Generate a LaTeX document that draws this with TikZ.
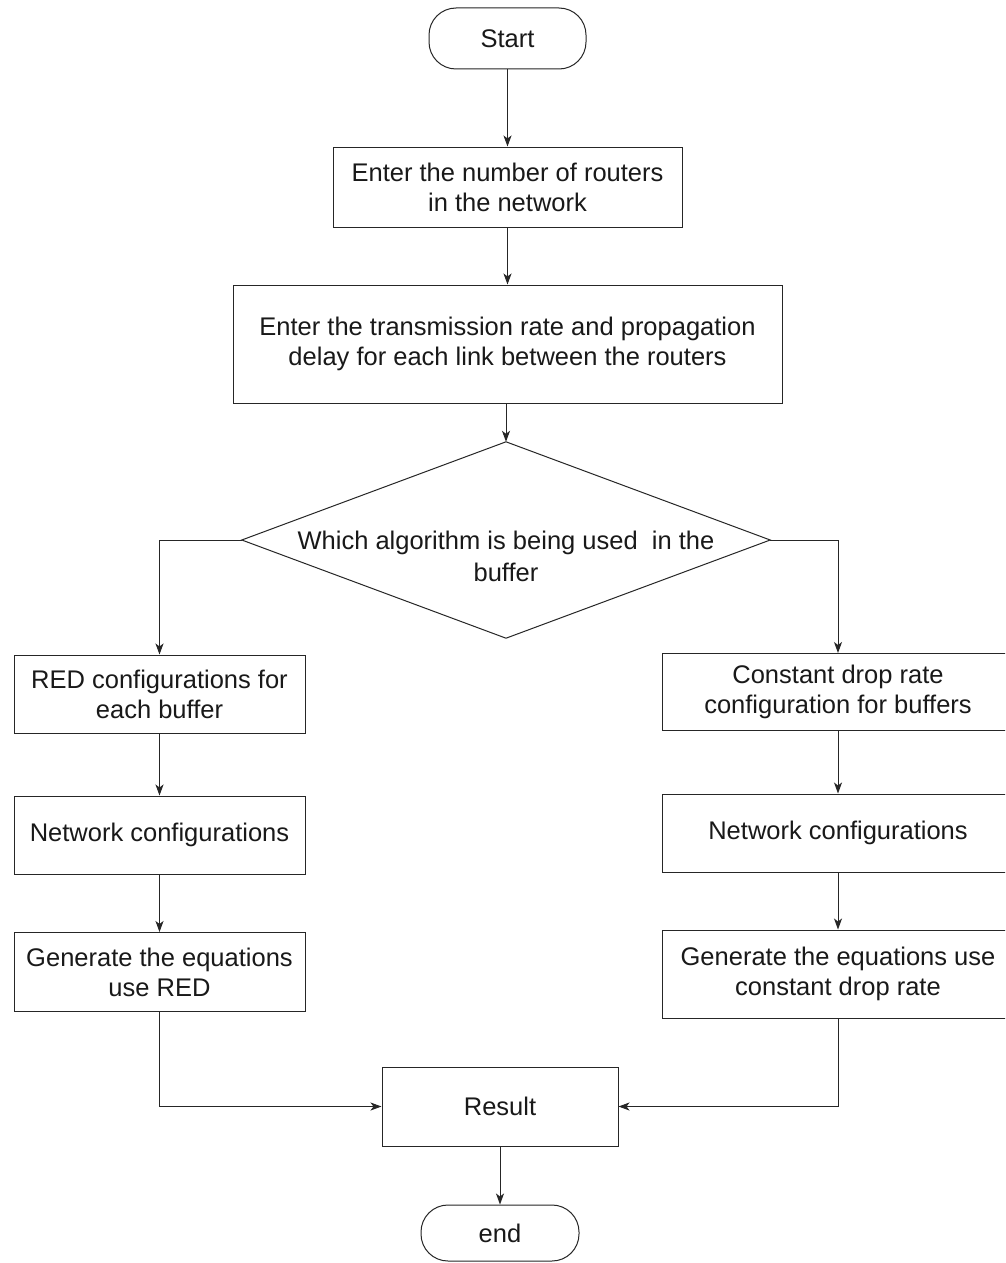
\documentclass[tikz,border=0pt]{standalone}
\usepackage{fontspec}
\setmainfont{Liberation Sans}
\usetikzlibrary{arrows.meta,positioning}
\tikzset{
  box/.style={draw=black!85,line width=1pt,rectangle,align=center,inner sep=0pt,
    font=\fontsize{25.5}{30}\selectfont,text=black!90},
  term/.style={box,rounded corners=27pt},
  dtext/.style={align=center,inner sep=0pt,font=\fontsize{25.5}{32}\selectfont,text=black!90},
  flow/.style={draw=black!85,line width=1pt,-{Stealth[length=11pt,width=8pt,inset=3pt]}},
}
\begin{document}
\begin{tikzpicture}[x=1pt,y=-1pt]
\clip (0,0) rectangle (1005,1263);
\fill[white] (0,0) rectangle (1005,1263);
% main column
\node[term,minimum width=157pt,minimum height=61pt] (start) at (507.5,38.5) {Start};
\node[box,minimum width=349pt,minimum height=80pt] (b1) at (507.5,187) {Enter the number of routers\\in the network};
\node[box,minimum width=549pt,minimum height=118pt] (b2) at (507.5,344) {Enter the transmission rate and propagation\\delay for each link between the routers};
\node[minimum width=528pt,minimum height=196pt,inner sep=0pt] (dia) at (506,540) {};
\draw[draw=black!85,line width=1pt] (dia.north) -- (dia.east) -- (dia.south) -- (dia.west) -- cycle;
\node[dtext] (diat) at (506,556) {Which algorithm is being used\ \ in the\\buffer};
% left column
\node[box,minimum width=291pt,minimum height=78pt] (l1) at (159.5,694) {RED configurations for\\each buffer};
\node[box,minimum width=291pt,minimum height=78pt] (l2) at (159.5,835) {Network configurations};
\node[box,minimum width=291pt,minimum height=79pt] (l3) at (159.5,972) {Generate the equations\\use RED};
% right column
\node[box,minimum width=352pt,minimum height=77pt] (r1) at (838,692) {Constant drop rate\\configuration for buffers};
\node[box,minimum width=352pt,minimum height=78pt] (r2) at (838,833) {Network configurations};
\node[box,minimum width=352pt,minimum height=88pt] (r3) at (838,974) {Generate the equations use\\constant drop rate};
% bottom
\node[box,minimum width=236pt,minimum height=79pt] (res) at (500,1106.5) {Result};
\node[term,minimum width=158pt,minimum height=56pt] (end) at (500,1233) {end};
% connectors
\draw[flow] (start) -- (b1);
\draw[flow] (b1.south -| start) -- (b2.north -| start);
\draw[flow] (b2.south -| dia) -- (dia.north);
\draw[flow] (dia.west) -| (l1.north);
\draw[flow] (dia.east) -| (r1.north);
\draw[flow] (l1) -- (l2);
\draw[flow] (l2) -- (l3);
\draw[flow] (r1) -- (r2);
\draw[flow] (r2) -- (r3);
\draw[flow] (l3.south) |- (res.west);
\draw[flow] (r3.south) |- (res.east);
\draw[flow] (res) -- (end);
\end{tikzpicture}
\end{document}
